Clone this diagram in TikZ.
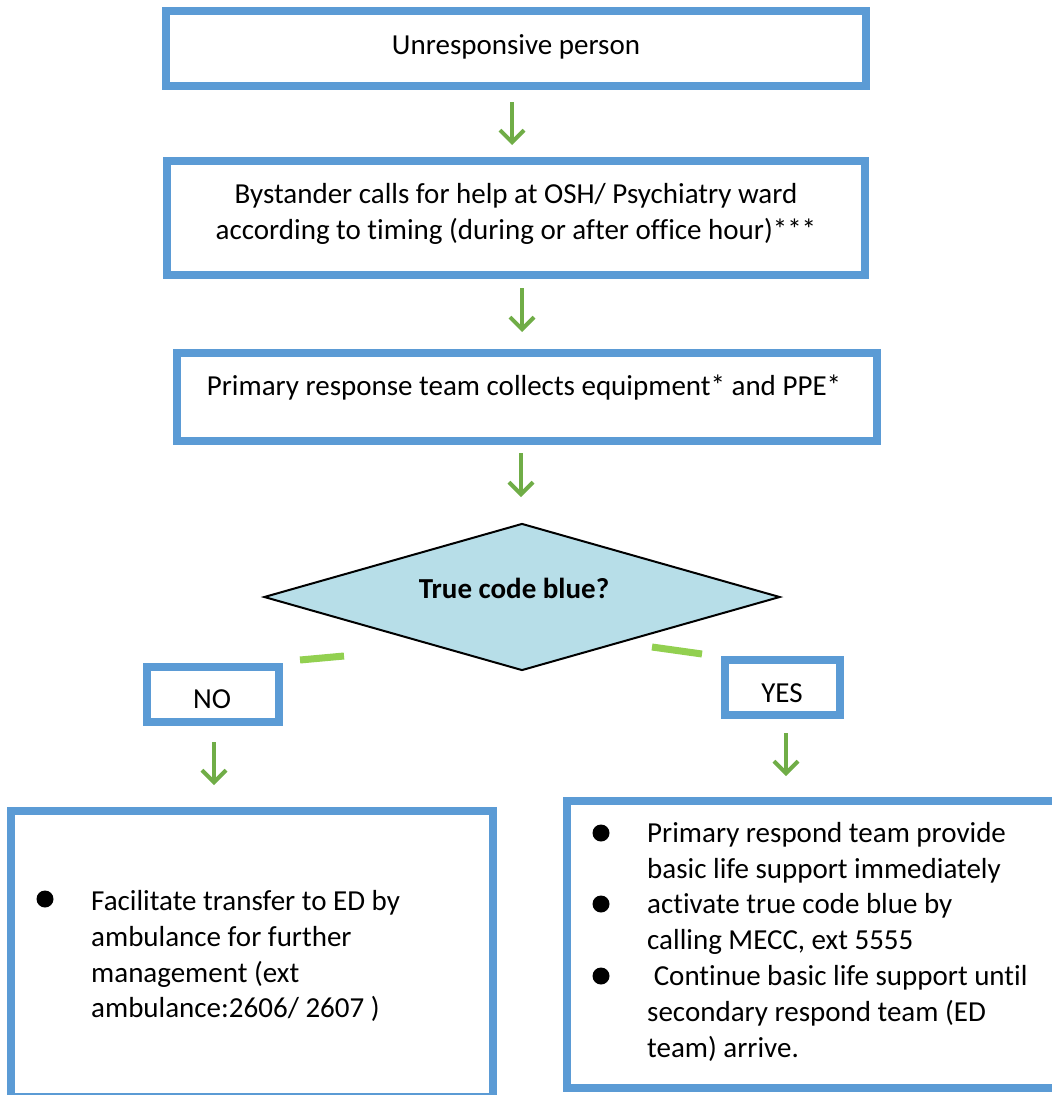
\documentclass[tikz,border=0pt]{standalone}
\usepackage{fontspec}
\setmainfont{Carlito}[Ligatures={NoCommon,NoRare}]
\usetikzlibrary{arrows.meta,shapes.geometric}
\definecolor{boxblue}{HTML}{5B9BD5}
\definecolor{arrowgreen}{HTML}{70AD47}
\definecolor{stubgreen}{HTML}{92D050}
\definecolor{decisionfill}{HTML}{B7DEE8}

\begin{document}
\begin{tikzpicture}[x=1pt,y=-1pt,
  bluebox/.style={draw=boxblue, line width=8pt, fill=white, rectangle, inner sep=0pt},
  centertext/.style={font=\fontsize{29}{36}\selectfont, inner sep=0pt, anchor=base},
  lefttext/.style={font=\fontsize{29}{36}\selectfont, inner sep=0pt, anchor=base west},
  flow/.style={draw=arrowgreen, line width=4pt, -{Straight Barb[length=12pt,width=24pt]}},
  stub/.style={draw=stubgreen, line width=7pt},
  dot/.style={circle, fill=black, minimum size=17pt, inner sep=0pt}
]
\useasboundingbox (0,0) rectangle (1052,1095);
\clip (0,0) rectangle (1052,1095);

% process boxes
\node[bluebox, minimum width=700pt, minimum height=75pt] (start) at (516,48.5) {};
\node[bluebox, minimum width=698pt, minimum height=114pt] (call) at (516,218) {};
\node[bluebox, minimum width=700pt, minimum height=88pt] (collect) at (527,397) {};

% decision
\node[diamond, draw=black, line width=2pt, fill=decisionfill, minimum width=516pt,
      minimum height=147pt, inner sep=0pt] (decision) at (522,597) {};

% branch labels
\node[bluebox, minimum width=132pt, minimum height=55pt] (no) at (213,694.5) {};
\node[bluebox, minimum width=115pt, minimum height=55pt] (yes) at (782.5,687.5) {};

% outcome boxes
\node[bluebox, minimum width=482pt, minimum height=286pt] (transfer) at (252,954) {};
\node[bluebox, minimum width=495pt, minimum height=287pt] (bls) at (814.5,944.5) {};

% texts
\node[centertext] (startT) at (516,54) {Unresponsive person};
\node[centertext] (callT1) at (516,203) {Bystander calls for help at OSH/ Psychiatry ward};
\node[centertext] (callT2) at (516,239) {according to timing (during or after office hour)***};
\node[centertext] (collectT) at (524,395) {Primary response team collects equipment* and PPE*};
\node[centertext, font=\fontsize{29}{36}\selectfont\bfseries] (decisionT) at (514,598) {True code blue?};
\node[centertext] (noT) at (212,708) {NO};
\node[centertext] (yesT) at (782,702) {YES};

% left outcome
\node[dot] (tb1) at (45,899) {};
\node[lefttext] (tl1) at (91,910) {Facilitate transfer to ED by};
\node[lefttext] (tl2) at (91,946) {ambulance for further};
\node[lefttext] (tl3) at (91,982) {management (ext};
\node[lefttext] (tl4) at (91,1017) {ambulance:2606/ 2607 )};

% right outcome
\node[dot] (bb1) at (601,833) {};
\node[dot] (bb2) at (601,904) {};
\node[dot] (bb3) at (601,976) {};
\node[lefttext] (bl1) at (647,842) {Primary respond team provide};
\node[lefttext] (bl2) at (647,878) {basic life support immediately};
\node[lefttext] (bl3) at (647,913.5) {activate true code blue by};
\node[lefttext] (bl4) at (647,949.5) {calling MECC, ext 5555};
\node[lefttext] (bl5) at (647,985) {\ Continue basic life support until};
\node[lefttext] (bl6) at (647,1021) {secondary respond team (ED};
\node[lefttext] (bl7) at (647,1057) {team) arrive.};

% flow arrows
\coordinate (a1s) at (512,102);  \coordinate (a1e) at (512,145);
\coordinate (a2s) at (522,288);  \coordinate (a2e) at (522,332);
\coordinate (a3s) at (521,453);  \coordinate (a3e) at (521,497);
\coordinate (a4s) at (214,742);  \coordinate (a4e) at (214,785);
\coordinate (a5s) at (786,733);  \coordinate (a5e) at (786,776);
\draw[flow] (a1s) -- (a1e);
\draw[flow] (a2s) -- (a2e);
\draw[flow] (a3s) -- (a3e);
\draw[flow] (a4s) -- (a4e);
\draw[flow] (a5s) -- (a5e);

% short connector stubs beside the decision
\coordinate (s1a) at (300,660); \coordinate (s1b) at (344,656);
\coordinate (s2a) at (652,647); \coordinate (s2b) at (702,654);
\draw[stub] (s1a) -- (s1b);
\draw[stub] (s2a) -- (s2b);
\end{tikzpicture}
\end{document}
